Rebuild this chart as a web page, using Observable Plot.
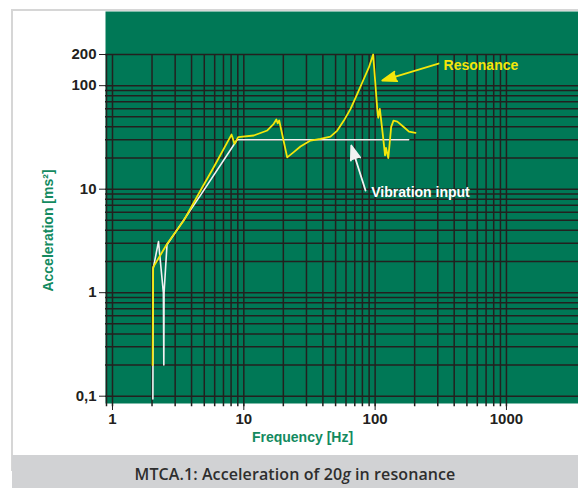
<!DOCTYPE html>
<html>
<head>
<meta charset="utf-8">
<script src="https://cdn.jsdelivr.net/npm/d3@7"></script>
<script src="https://cdn.jsdelivr.net/npm/@observablehq/plot@0.6"></script>
<style>
html, body { margin: 0; padding: 0; background: #fff; }
#wrap { position: relative; width: 578px; height: 488px; overflow: hidden; }
#border { position: absolute; left: 11px; top: 9px; width: 600px; height: 460px;
  border-left: 2px solid #d6d6d6; border-top: 2px solid #d6d6d6; }
#chart { position: absolute; left: 0; top: 0; }
#caption { position: absolute; left: 12px; top: 455px; width: 566px; height: 33px;
  background: #d1d2d4; font-family: "Open Sans", "Liberation Sans", sans-serif;
  font-size: 16px; font-weight: 600; color: #2e2e2e; text-align: center;
  line-height: 33px; padding-top: 3px; box-sizing: border-box; letter-spacing: 0.1px; }
</style>
</head>
<body>
<div id="wrap">
  <div id="border"></div>
  <div id="chart"></div>
  <div id="caption">MTCA.1: Acceleration of 20<i>g</i> in resonance</div>
</div>
<script>
// ---- data ----
const freqGrid = [0.9, 1, 2, 3, 4, 5, 6, 7, 8, 9,
  10, 20, 30, 40, 50, 60, 70, 80, 90,
  100, 200, 300, 400, 500, 600, 700, 800, 900, 1000];
const accelGrid = [0.1, 0.2, 0.3, 0.4, 0.5, 0.6, 0.7, 0.8, 0.9,
  1, 2, 3, 4, 5, 6, 7, 8, 9,
  10, 20, 30, 40, 50, 60, 70, 80, 90,
  100, 200];
const freqTicks = [1, 10, 100, 1000];
const freqTickLabels = ["1", "10", "100", "1000"];
const accelTicks = [0.1, 1, 10, 100, 200];
const accelTickLabels = ["0,1", "1", "10", "100", "200"];

// Vibration input (white)
const inputFreq  = [2.03, 2.04, 2.24, 2.44, 2.46, 2.47, 2.6, 4.7, 8.9, 180];
const inputAccel = [0.094, 1.7, 3.12, 1.0, 0.2, 1.0, 2.9, 8.8, 30, 30];

// Response (yellow)
const respFreq  = [2.02, 2.04, 2.6, 3.49, 4.68, 5.9, 8.06, 8.5, 9.06, 11.9, 15.1, 16.9, 17.7, 18.1, 18.6,
  21.4, 24, 27, 32.2, 38.4, 45.7, 51.5, 57.8, 65, 73, 82, 89.6, 96.6,
  103.8, 105.6, 108.6, 115, 119, 121, 126, 132.5, 138, 147.6, 166, 181, 203];
const respAccel = [0.2, 1.76, 2.95, 4.98, 9.7, 16.3, 33.7, 27.4, 31.8, 33, 36.9, 42.8, 47.1, 43.3, 46.1,
  20.3, 22.8, 25.8, 29.5, 30.6, 32.2, 36.8, 46, 59.7, 83, 116, 150, 200,
  59.7, 49, 59.7, 31.8, 21.2, 25, 20, 40, 46, 45, 39.6, 36, 35];

// Annotations
const annoText = ["Resonance", "Vibration input"];
const annoFreq = [332, 93.4];
const annoAccel = [156.6, 9.35];
const arrowFrom = [[304, 163.6], [84.5, 9.7]];
const arrowTo   = [[113.3, 112.1], [65.8, 26.4]];

// ---- styles ----
const GREEN = "#007856";
const GRID = "#23201f";
const YELLOW = "#f4e60a";
const WHITE = "#f2f2f2";
const LABEL_GREEN = "#138a60";

const input = inputFreq.map((f, i) => ({f, a: inputAccel[i]}));
const response = respFreq.map((f, i) => ({f, a: respAccel[i]}));
const annos = annoText.map((t, i) => ({t, f: annoFreq[i], a: annoAccel[i]}));
const arrows = arrowFrom.map((p, i) => ({x1: p[0], y1: p[1], x2: arrowTo[i][0], y2: arrowTo[i][1], c: i === 0 ? YELLOW : WHITE}));

const chart = Plot.plot({
  width: 578,
  height: 455,
  marginLeft: 105,
  marginRight: 0,
  marginTop: 11,
  marginBottom: 52,
  style: {
    background: "transparent",
    fontFamily: "'Liberation Sans', Arial, sans-serif",
    fontSize: "15px",
    fontWeight: "bold",
    color: "#231f20",
    overflow: "visible"
  },
  x: {
    type: "log",
    domain: [0.8845, 3538],
    ticks: freqTicks,
    tickFormat: d => freqTickLabels[freqTicks.indexOf(d)],
    tickSize: 7,
    tickPadding: 3,
    label: null
  },
  y: {
    type: "log",
    domain: [0.085, 520.6],
    ticks: accelTicks,
    tickFormat: d => accelTickLabels[accelTicks.indexOf(d)],
    tickSize: 6,
    tickPadding: 3,
    label: null
  },
  marks: [
    Plot.frame({fill: GREEN, stroke: null}),
    Plot.ruleY(accelGrid, {stroke: GRID, strokeWidth: 1.5}),
    Plot.ruleX(freqGrid, {y1: 0.079, y2: 200, stroke: GRID, strokeWidth: 1.5}),
    Plot.line(input, {x: "f", y: "a", stroke: WHITE, strokeWidth: 1.6}),
    Plot.line(response, {x: "f", y: "a", stroke: YELLOW, strokeWidth: 1.8}),
    Plot.arrow(arrows, {x1: "x1", y1: "y1", x2: "x2", y2: "y2", stroke: d => d.c, fill: d => d.c,
      strokeWidth: 1.8, headLength: 12.5, headAngle: 38}),
    Plot.text(annos, {x: "f", y: "a", text: "t", textAnchor: "start", lineAnchor: "middle",
      fill: (d, i) => i === 0 ? YELLOW : "#ffffff", fontSize: 14, fontWeight: "bold"}),
    Plot.text(["Acceleration [ms²]"], {frameAnchor: "left", textAnchor: "middle", lineAnchor: "middle",
      rotate: -90, dx: -57, dy: 23, fill: LABEL_GREEN, fontSize: 14, fontWeight: "bold"}),
    Plot.text(["Frequency [Hz]"], {frameAnchor: "bottom", textAnchor: "middle", lineAnchor: "middle",
      dx: -39.5, dy: 34, fill: LABEL_GREEN, fontSize: 14, fontWeight: "bold"})
  ]
});
document.getElementById("chart").append(chart);
</script>
</body>
</html>
